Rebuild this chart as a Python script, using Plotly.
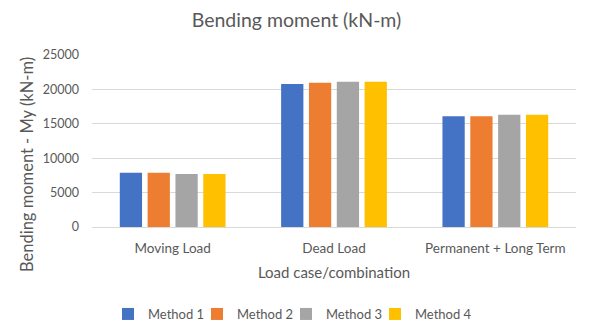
import plotly.graph_objects as go

categories = ["Moving Load", "Dead Load", "Permanent + Long Term"]
series_names = ["Method 1", "Method 2", "Method 3", "Method 4"]
method1 = [7900, 20800, 16100]
method2 = [7900, 20950, 16100]
method3 = [7700, 21100, 16300]
method4 = [7700, 21100, 16300]
colors = ["#4472C4", "#ED7D31", "#A5A5A5", "#FFC000"]
y_ticks = [0, 5000, 10000, 15000, 20000, 25000]

font_family = "Lato, Open Sans, sans-serif"
grey = "#595959"

PL, PR, PT, PB = 92, 17, 55, 109
W, H = 593, 336
pw, ph = W - PL - PR, H - PT - PB

fig = go.Figure()
legend_keys = ["legend", "legend2", "legend3", "legend4"]
for i, (name, vals, c) in enumerate(zip(series_names, [method1, method2, method3, method4], colors)):
    fig.add_trace(go.Bar(name=name, x=categories, y=vals, marker_color=c, marker_line_width=0,
                         legend=legend_keys[i]))

legend_cfg = {}
sq_offset = 21
for i, key in enumerate(legend_keys):
    px_left = 129 + 89 * i - sq_offset
    legend_cfg[key] = dict(orientation="h", x=(px_left - PL) / pw, xanchor="left",
                           y=-(314 - (H - PB)) / ph, yanchor="middle",
                           font=dict(size=13, color=grey), itemwidth=30,
                           bgcolor="rgba(0,0,0,0)")

fig.update_layout(
    width=W, height=H,
    margin=dict(l=PL, r=PR, t=PT, b=PB, autoexpand=False),
    paper_bgcolor="white", plot_bgcolor="white",
    barmode="group", bargap=0.31, bargroupgap=0.2,
    font=dict(family=font_family, color=grey, size=12),
    title=dict(text="Bending moment (kN-m)", x=0.5, xanchor="center", y=0.94, yanchor="middle",
               font=dict(size=19.5, color=grey, family=font_family)),
    showlegend=True,
    **legend_cfg,
    xaxis=dict(title=dict(text="Load case/combination", font=dict(size=15, color=grey), standoff=12),
               tickfont=dict(size=13.5, color=grey), showline=True, linecolor="#d9d9d9", linewidth=1,
               ticks="", showgrid=False, automargin=False, ticklabelstandoff=9),
    yaxis=dict(range=[0, 25000], tickvals=y_ticks, ticktext=[str(v) for v in y_ticks],
               tickfont=dict(size=12.5, color=grey), showgrid=True, gridcolor="#d9d9d9", gridwidth=1,
               zeroline=False, ticks="", ticklabelstandoff=12, automargin=False),
)
fig.add_annotation(text="Bending moment - My (kN-m)", textangle=-90, showarrow=False,
                   xref="paper", yref="paper", x=(27 - PL) / pw, y=(H - PB - 165) / ph,
                   xanchor="center", yanchor="middle",
                   font=dict(size=16.5, color=grey, family=font_family))

fig.write_html("out.html")
